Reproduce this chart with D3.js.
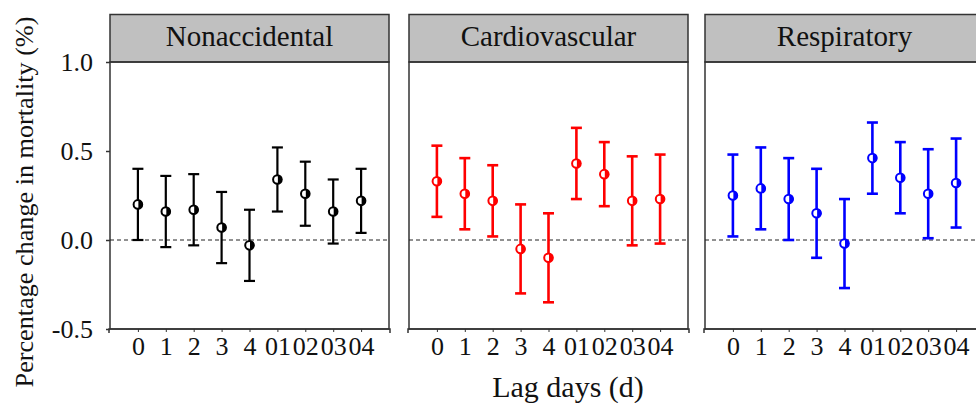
<!DOCTYPE html>
<html><head><meta charset="utf-8">
<script src="https://cdn.jsdelivr.net/npm/d3@7"></script>
<style>
html,body{margin:0;padding:0;background:#fff;overflow:hidden;}
svg{display:block;}
svg text{font-family:"Liberation Serif","Times New Roman",serif;}
</style></head>
<body>
<svg id="chart" width="976" height="403"></svg>
<script>
// ---- data ----
const categories = ["0","1","2","3","4","01","02","03","04"];
const panelTitles = ["Nonaccidental","Cardiovascular","Respiratory"];
const yTicks = [-0.5, 0.0, 0.5, 1.0];

const nonaccEst = [0.20, 0.16, 0.17, 0.07, -0.03, 0.34, 0.26, 0.16, 0.22];
const nonaccLo  = [0.00, -0.04, -0.03, -0.13, -0.23, 0.16, 0.08, -0.02, 0.04];
const nonaccHi  = [0.40, 0.36, 0.37, 0.27, 0.17, 0.52, 0.44, 0.34, 0.40];

const cardioEst = [0.33, 0.26, 0.22, -0.05, -0.10, 0.43, 0.37, 0.22, 0.23];
const cardioLo  = [0.13, 0.06, 0.02, -0.30, -0.35, 0.23, 0.19, -0.03, -0.02];
const cardioHi  = [0.53, 0.46, 0.42, 0.20, 0.15, 0.63, 0.55, 0.47, 0.48];

const respEst = [0.25, 0.29, 0.23, 0.15, -0.02, 0.46, 0.35, 0.26, 0.32];
const respLo  = [0.02, 0.06, 0.00, -0.10, -0.27, 0.26, 0.15, 0.01, 0.07];
const respHi  = [0.48, 0.52, 0.46, 0.40, 0.23, 0.66, 0.55, 0.51, 0.57];

// ---- styles / layout ----
const FONT = '"Liberation Serif","Times New Roman",serif';
const colors = ["#000000", "#ff0000", "#0000ff"];
const panelLefts = [110, 409, 705];
const panelW = 279;
const headerTop = 14.5, plotTop = 62, plotBottom = 329;

const panels = [
  {est: nonaccEst, lo: nonaccLo, hi: nonaccHi},
  {est: cardioEst, lo: cardioLo, hi: cardioHi},
  {est: respEst, lo: respLo, hi: respHi}
];

const svg = d3.select("#chart");
const y = d3.scaleLinear().domain([-0.5, 1.0]).range([plotBottom, plotTop]);
const fmt = d => d3.format(".1f")(d).replace("\u2212", "-");

panels.forEach((p, pi) => {
  const left = panelLefts[pi];
  const x = d3.scalePoint().domain(categories).range([left + panelW/10, left + panelW*9/10]);
  const g = svg.append("g");
  const col = colors[pi];

  // header
  g.append("rect").attr("x", left).attr("y", headerTop).attr("width", panelW).attr("height", plotTop - headerTop)
    .attr("fill", "#c0c0c0").attr("stroke", "#333").attr("stroke-width", 1.5);
  g.append("text").attr("x", left + panelW/2).attr("y", 46).attr("text-anchor", "middle")
    .attr("font-family", FONT).attr("font-size", 29).attr("fill", "#111").text(panelTitles[pi]);

  // frame
  g.append("rect").attr("x", left).attr("y", plotTop).attr("width", panelW).attr("height", plotBottom - plotTop)
    .attr("fill", "none").attr("stroke", "#333").attr("stroke-width", 1.5);

  // zero dashed line
  g.append("line").attr("x1", left).attr("x2", left + panelW).attr("y1", y(0)).attr("y2", y(0))
    .attr("stroke", "#222").attr("stroke-width", 1).attr("stroke-dasharray", "4,3");

  // x axis
  const xAxis = d3.axisBottom(x).tickSizeInner(3).tickSizeOuter(4).tickPadding(5);
  const ax = g.append("g").attr("transform", `translate(0,${plotBottom})`).call(xAxis)
    .attr("font-family", FONT).attr("font-size", 26);
  ax.select(".domain").attr("stroke", "#333").attr("stroke-width", 1.5)
    .attr("d", `M${left-1},${4}V0H${left+panelW+1}V${4}`);
  ax.selectAll(".tick line").attr("stroke", "#333").attr("stroke-width", 1);
  ax.selectAll(".tick text").attr("fill", "#111");

  // y axis (only first panel labels)
  if (pi === 0) {
    const yAxis = d3.axisLeft(y).tickValues(yTicks).tickFormat(fmt).tickSize(4).tickPadding(13);
    const ay = g.append("g").attr("transform", `translate(${left},0)`).call(yAxis)
      .attr("font-family", FONT).attr("font-size", 26);
    ay.select(".domain").remove();
    ay.selectAll(".tick line").attr("stroke", "#333").attr("stroke-width", 1.5);
    ay.selectAll(".tick text").attr("fill", "#111");
  }

  // error bars
  const data = categories.map((c, i) => ({c, est: p.est[i], lo: p.lo[i], hi: p.hi[i]}));
  const lw = pi === 0 ? 2.2 : 2.6;
  const eb = g.append("g").selectAll("g").data(data).join("g");
  eb.append("line").attr("x1", d => x(d.c)).attr("x2", d => x(d.c)).attr("y1", d => y(d.lo)).attr("y2", d => y(d.hi))
    .attr("stroke", col).attr("stroke-width", lw);
  eb.append("line").attr("x1", d => x(d.c) - 5.5).attr("x2", d => x(d.c) + 5.5).attr("y1", d => y(d.hi)).attr("y2", d => y(d.hi))
    .attr("stroke", col).attr("stroke-width", lw);
  eb.append("line").attr("x1", d => x(d.c) - 5.5).attr("x2", d => x(d.c) + 5.5).attr("y1", d => y(d.lo)).attr("y2", d => y(d.lo))
    .attr("stroke", col).attr("stroke-width", lw);
  eb.append("circle").attr("cx", d => x(d.c)).attr("cy", d => y(d.est)).attr("r", 4.3)
    .attr("fill", "#fff").attr("stroke", col).attr("stroke-width", 2);
  eb.append("path")
    .attr("d", d => { const cx = x(d.c), cy = y(d.est), r = 4.3; return `M${cx+0.5},${cy-r}A${r},${r} 0 0 1 ${cx+0.5},${cy+r}Z`; })
    .attr("fill", col);
});

// axis titles
const yl = svg.append("text").attr("transform", "translate(33,202) rotate(-90)").attr("text-anchor", "middle")
  .attr("font-family", FONT).attr("font-size", 26).attr("fill", "#111").text("Percentage change in mortality (%)");
const target = 371;
const len = yl.node().getComputedTextLength();
yl.attr("font-size", 26 * target / len);

svg.append("text").attr("x", 568).attr("y", 397).attr("text-anchor", "middle")
  .attr("font-family", FONT).attr("font-size", 30).attr("fill", "#111").text("Lag days (d)");
</script>
</body></html>
